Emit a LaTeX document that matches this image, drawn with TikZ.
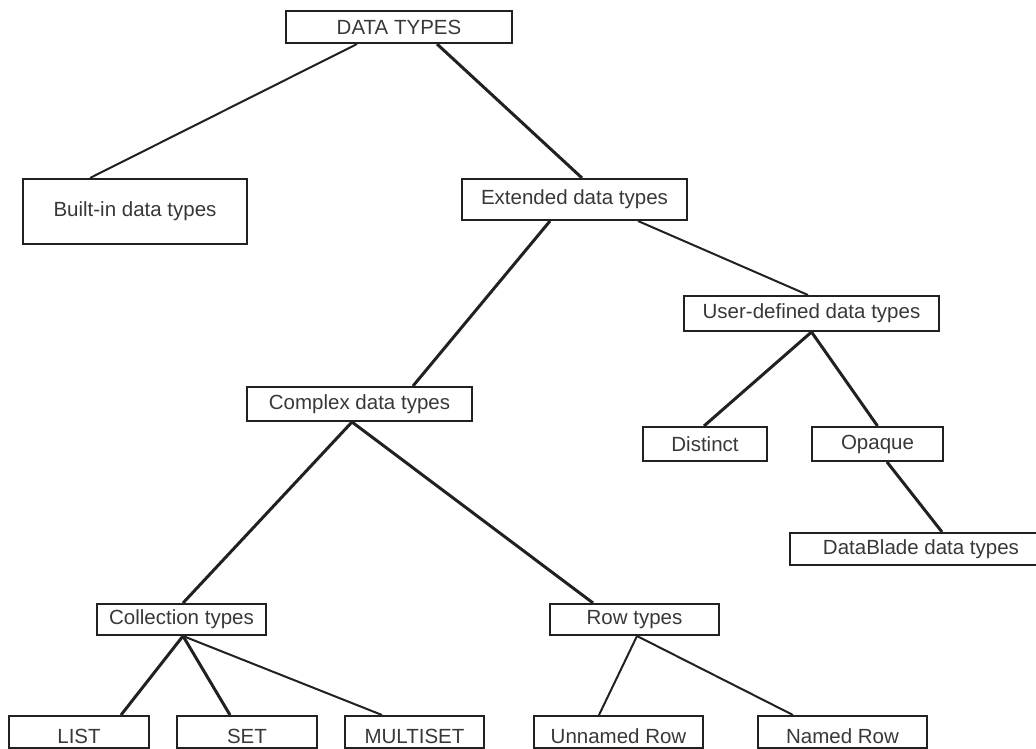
\documentclass[tikz,border=0pt]{standalone}
\usepackage{fontspec}
\setmainfont{Liberation Sans}
\usetikzlibrary{positioning}
\definecolor{ink}{rgb}{0.13,0.13,0.13}
\definecolor{txt}{rgb}{0.22,0.22,0.22}
\tikzset{%
  tbox/.style={draw=ink,line width=2pt,inner sep=0pt,text=txt,
    minimum width=#1,font=\fontsize{20.5}{24}\selectfont},
  tbox/.default=170pt,
  leaf/.style={tbox=#1,minimum height=32pt,text height=22pt,text depth=0pt},
  heavy/.style={draw=ink,line width=3pt},
  light/.style={draw=ink,line width=2pt}
}
\begin{document}
\begin{tikzpicture}[x=1pt,y=-1pt]
  \useasboundingbox (0,0) rectangle (1036,749);
  \clip (0,0) rectangle (1036,749);
  \coordinate (p0) at (399,27);
  \coordinate (p1) at (135,211.5);
  \coordinate (p2) at (574.5,199.5);
  \coordinate (p3) at (811.5,313.5);
  \coordinate (p4) at (359.5,404);
  \coordinate (p5) at (705,444);
  \coordinate (p6) at (877.5,444);
  \coordinate (p7) at (921,549);
  \coordinate (p8) at (181.5,619.5);
  \coordinate (p9) at (634.5,619.5);
  %%%
  \node[tbox=226pt,minimum height=32pt] (dt) at (p0) {DATA TYPES};
  \node[tbox=224pt,minimum height=65pt] (bi) at (p1) {Built-in data types};
  \node[tbox=225pt,minimum height=41pt] (ex) at (p2) {Extended data types};
  \node[tbox=255pt,minimum height=35pt] (ud) at (p3) {User-defined data types};
  \node[tbox=225pt,minimum height=34pt] (cx) at (p4) {Complex data types};
  \node[tbox=124pt,minimum height=34pt] (di) at (p5) {Distinct};
  \node[tbox=131pt,minimum height=34pt] (op) at (p6) {Opaque};
  \node[tbox=262pt,minimum height=32pt] (db) at (p7) {DataBlade data types};
  \node[tbox=169pt,minimum height=31pt] (co) at (p8) {Collection types};
  \node[tbox=169pt,minimum height=31pt] (rw) at (p9) {Row types};
  %%
  \node[leaf=140pt] (ls) at (79,732) {LIST};
  \node[leaf=140pt] (st) at (247,732) {SET};
  \node[leaf=139pt] (ms) at (414.5,732) {MULTISET};
  \node[leaf=169pt] (ur) at (618.5,732) {Unnamed Row};
  \node[leaf=169pt] (nr) at (842.5,732) {Named Row};
  %%
  \draw[light] ([xshift=-42pt]dt.south) -- ([xshift=-45pt]bi.north);
  \draw[heavy] ([xshift=38pt]dt.south) -- ([xshift=7.5pt]ex.north);
  \draw[heavy] ([xshift=-24.5pt]ex.south) -- ([xshift=53.5pt]cx.north);
  \draw[light] ([xshift=63.5pt]ex.south) -- ([xshift=-3.5pt]ud.north);
  \draw[heavy] (ud.south) -- ([xshift=-1pt]di.north);
  \draw[heavy] (ud.south) -- (op.north);
  \draw[heavy] ([xshift=9.5pt]op.south) -- ([xshift=21pt]db.north);
  \draw[heavy] ([xshift=-7.5pt]cx.south) -- ([xshift=1.5pt]co.north);
  \draw[heavy] ([xshift=-7.5pt]cx.south) -- ([xshift=-41.5pt]rw.north);
  %%
  \draw[heavy] ([xshift=1.5pt]co.south) -- ([xshift=42pt]ls.north);
  \draw[heavy] ([xshift=1.5pt]co.south) -- ([xshift=-17pt]st.north);
  \draw[light] ([xshift=1.5pt]co.south) -- ([xshift=-32.5pt]ms.north);
  \draw[light] ([xshift=2.5pt]rw.south) -- ([xshift=-19.5pt]ur.north);
  \draw[light] ([xshift=2.5pt]rw.south) -- ([xshift=-49.5pt]nr.north);
\end{tikzpicture}
\end{document}
